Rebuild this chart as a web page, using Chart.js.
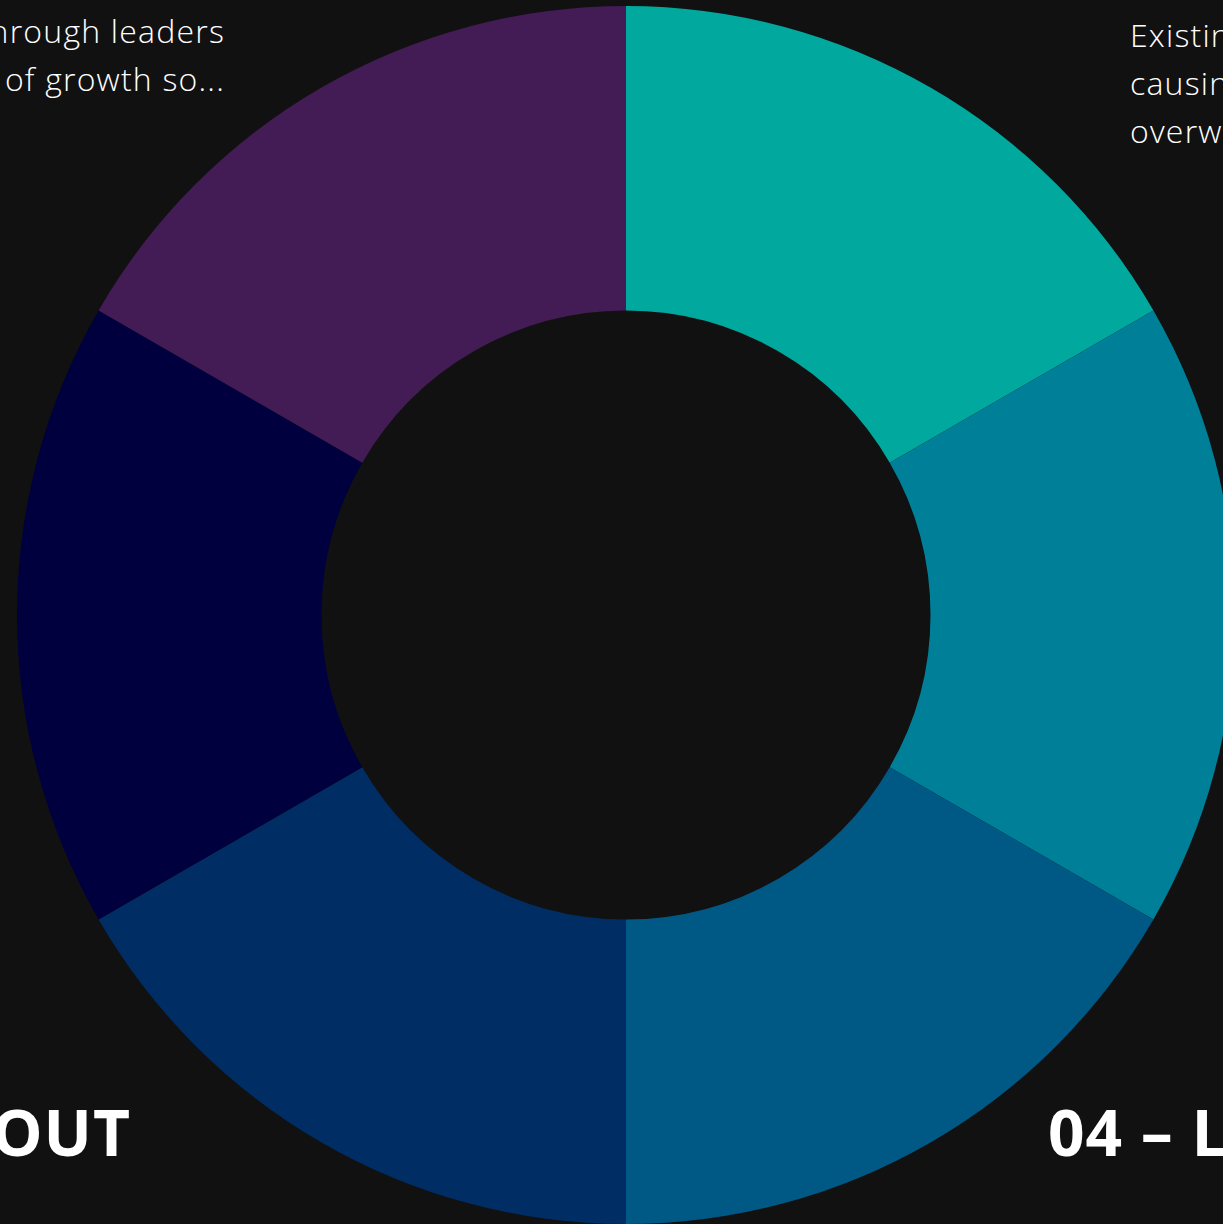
<!DOCTYPE html>
<html>
<head>
<meta charset="utf-8">
<script src="https://cdn.jsdelivr.net/npm/chart.js@4"></script>
<style>
  html, body { margin: 0; padding: 0; width: 1223px; height: 1224px; overflow: hidden; background: #111111; }
  body { position: relative; font-family: "Open Sans", sans-serif; color: #ffffff; }
  .txt { position: absolute; font-size: 32px; font-weight: 300; letter-spacing: 1.2px; line-height: 48px; white-space: nowrap; }
  .head { position: absolute; font-size: 64px; font-weight: 700; letter-spacing: 1px; white-space: nowrap; line-height: 1; }
  #wrap { position: absolute; left: 17px; top: 6px; width: 1218px; height: 1218px; }
</style>
</head>
<body>
<div class="txt" style="right:998px; top:7px; text-align:right;">Growth stalls through leaders<br>unaware of growth so...</div>
<div class="txt" style="left:1130px; top:11px;">Existing<br>causing<br>overwhelm</div>
<div class="head" style="right:1092px; top:1100px;">03 – BURNOUT</div>
<div class="head" style="left:1048px; top:1100px;">04 – LOSS</div>
<div id="wrap"><canvas id="donut"></canvas></div>
<script>
// six equal segments, starting at 12 o'clock going clockwise
const categories = ["01", "02", "03", "04", "05", "06"];
const values = [1, 1, 1, 1, 1, 1];
const colors = ["#00a89e", "#007f99", "#005885", "#002d63", "#00003e", "#431b55"];

const ctx = document.getElementById("donut").getContext("2d");
new Chart(ctx, {
  type: "doughnut",
  data: {
    labels: categories,
    datasets: [{
      data: values,
      backgroundColor: colors,
      borderWidth: 0,
    }],
  },
  options: {
    responsive: true,
    maintainAspectRatio: false,
    animation: false,
    cutout: "50%",
    layout: { padding: 0 },
    plugins: {
      legend: { display: false },
      tooltip: { enabled: false },
    },
  },
});
</script>
</body>
</html>
